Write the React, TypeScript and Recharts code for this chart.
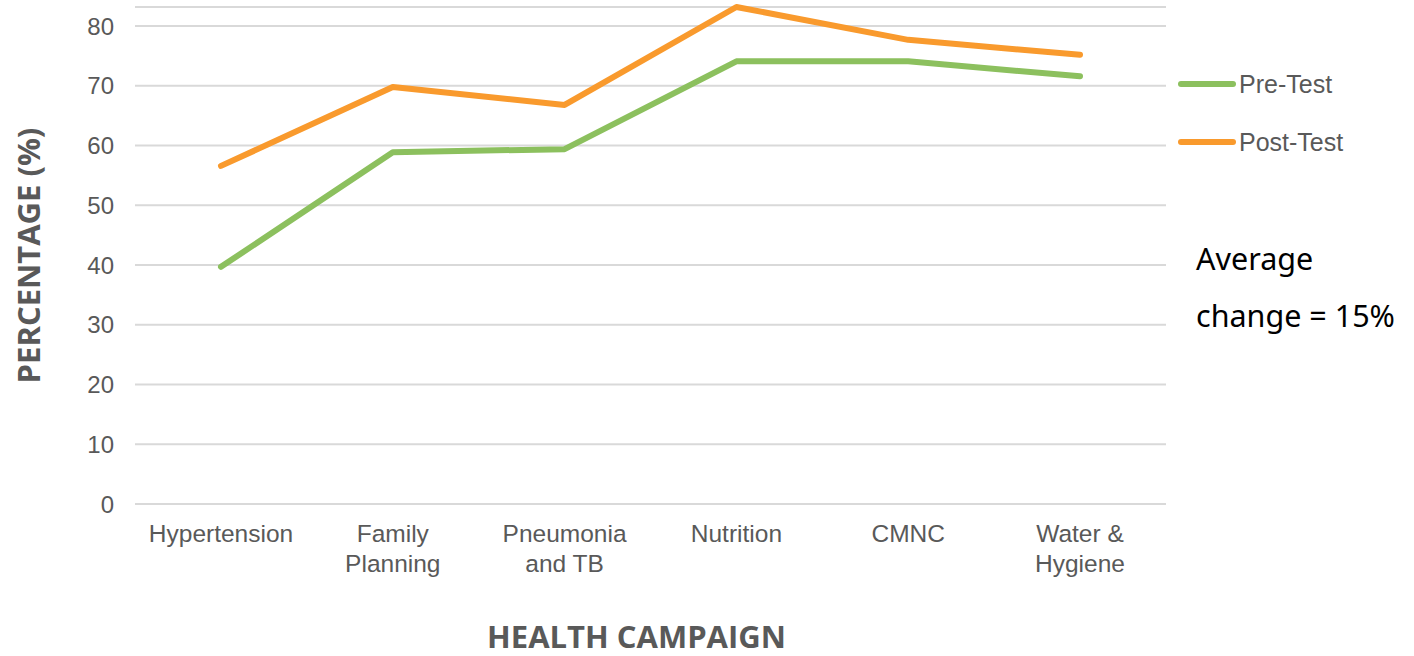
import React from "react";
import { LineChart, Line, XAxis, YAxis, CartesianGrid, Legend, Label } from "recharts";

const campaigns = ["Hypertension", "Family\nPlanning", "Pneumonia\nand TB", "Nutrition", "CMNC", "Water &\nHygiene"];
const preTest = [39.7, 58.9, 59.4, 74.1, 74.1, 71.6];
const postTest = [56.6, 69.8, 66.8, 83.2, 77.7, 75.2];
const yTicks = [0, 10, 20, 30, 40, 50, 60, 70, 80];
const seriesOrder = ["pre", "post"];

const data = campaigns.map((name, i) => ({ name, pre: preTest[i], post: postTest[i] }));

const GREEN = "#8cc05e";
const ORANGE = "#f99a2d";
const AXIS_TEXT = "#595959";
const TICK_FONT = "'Liberation Sans', Arial, sans-serif";
const TITLE_FONT = "'Open Sans', 'Noto Sans', sans-serif";

const CategoryTick = (props: any) => {
  const { x, y, payload } = props;
  const lines = String(payload.value).split("\n");
  return (
    <text x={x} y={y} textAnchor="middle" fill={AXIS_TEXT} fontFamily={TICK_FONT} fontSize={24.5}>
      {lines.map((ln, i) => (
        <tspan key={i} x={x} dy={30}>
          {ln}
        </tspan>
      ))}
    </text>
  );
};

const LegendContent = (props: any) => {
  const items = [...(props.payload || [])].sort(
    (a: any, b: any) => seriesOrder.indexOf(a.dataKey) - seriesOrder.indexOf(b.dataKey)
  );
  return (
    <div>
      {items.map((entry: any, i: number) => (
        <div key={i} style={{ display: "flex", alignItems: "center", height: 58 }}>
          <div style={{ width: 58, height: 6, borderRadius: 3, background: entry.color }} />
          <span style={{ fontFamily: TICK_FONT, fontSize: 25, color: AXIS_TEXT, marginLeft: 3 }}>{entry.value}</span>
        </div>
      ))}
    </div>
  );
};

const YTitle = (props: any) => {
  const { viewBox } = props;
  const cx = 28;
  const cy = viewBox.y + viewBox.height / 2;
  return (
    <text
      x={cx}
      y={cy}
      transform={`rotate(-90 ${cx} ${cy})`}
      textAnchor="middle"
      dominantBaseline="central"
      fill={AXIS_TEXT}
      fontFamily={TITLE_FONT}
      fontWeight={700}
      fontSize={31}
    >
      PERCENTAGE (%)
    </text>
  );
};

const XTitle = (props: any) => {
  const { viewBox } = props;
  const cx = viewBox.x + viewBox.width / 2 - 14;
  return (
    <text x={cx} y={648} textAnchor="middle" fill={AXIS_TEXT} fontFamily={TITLE_FONT} fontWeight={700} fontSize={31}>
      HEALTH CAMPAIGN
    </text>
  );
};

export default function App() {
  return (
    <div style={{ position: "absolute", left: 0, top: 0, width: 1414, height: 656, background: "#fff" }}>
      <LineChart width={1414} height={656} data={data} margin={{ top: 7, right: 248, bottom: 72, left: 75 }}>
        <CartesianGrid vertical={false} stroke="#d9d9d9" strokeWidth={2} />
        <XAxis
          dataKey="name"
          axisLine={false}
          tickLine={false}
          tick={<CategoryTick />}
          height={80}
          interval={0}
          padding={{ left: 86, right: 86 }}
        >
          <Label content={<XTitle />} />
        </XAxis>
        <YAxis
          domain={[0, "dataMax"]}
          ticks={yTicks}
          axisLine={false}
          tickLine={false}
          width={60}
          tick={{ fill: AXIS_TEXT, fontFamily: TICK_FONT, fontSize: 24 }}
          tickMargin={15}
        >
          <Label content={<YTitle />} />
        </YAxis>
        <Legend
          layout="horizontal"
          align="center"
          verticalAlign="middle"
          content={<LegendContent />}
          wrapperStyle={{ position: "absolute", left: 1178, top: 55, width: 220 }}
        />
        <Line
          type="linear"
          dataKey="pre"
          name="Pre-Test"
          stroke={GREEN}
          strokeWidth={6}
          strokeLinecap="round"
          strokeLinejoin="round"
          dot={false}
          isAnimationActive={false}
        />
        <Line
          type="linear"
          dataKey="post"
          name="Post-Test"
          stroke={ORANGE}
          strokeWidth={6}
          strokeLinecap="round"
          strokeLinejoin="round"
          dot={false}
          isAnimationActive={false}
        />
      </LineChart>
      <div
        style={{
          position: "absolute",
          left: 1196,
          top: 230,
          fontFamily: "'Noto Sans', 'Open Sans', sans-serif",
          fontSize: 30.5,
          lineHeight: "57px",
          color: "#000",
        }}
      >
        <div>Average</div>
        <div>change = 15%</div>
      </div>
    </div>
  );
}
